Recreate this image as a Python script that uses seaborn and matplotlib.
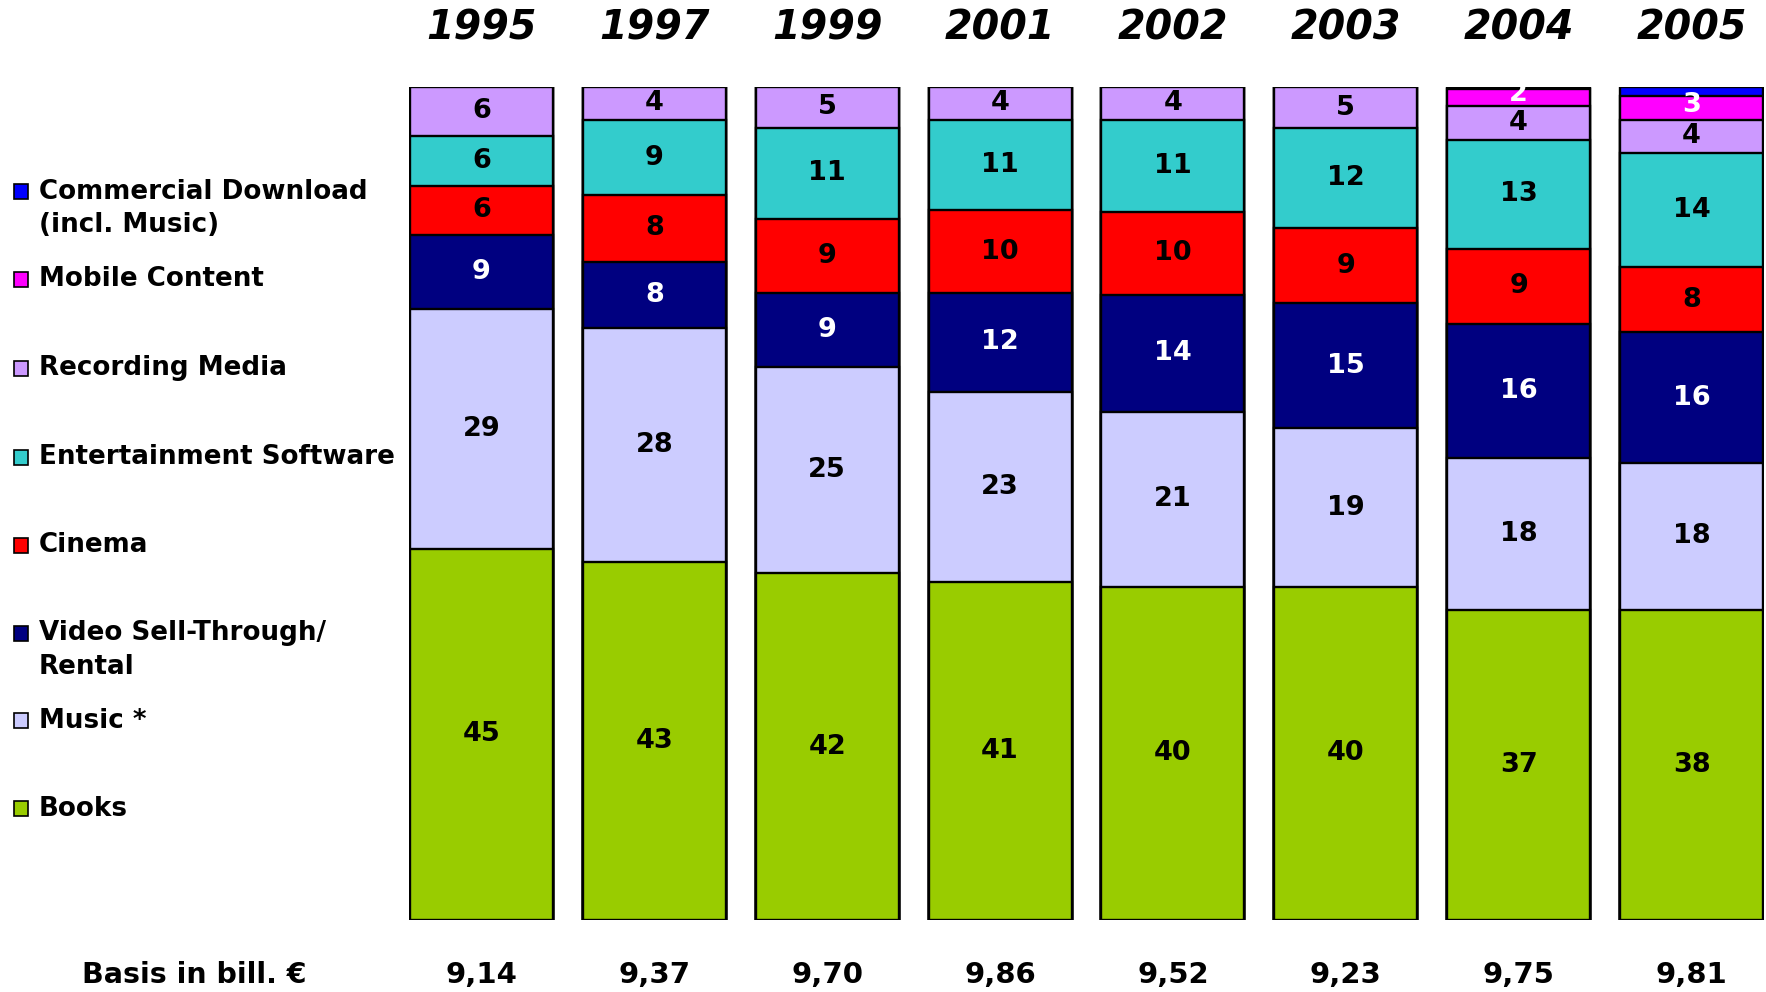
import numpy as np
import pandas as pd
import matplotlib
matplotlib.use("Agg")
import matplotlib.pyplot as plt
import matplotlib.transforms as mtransforms
from matplotlib.patches import Rectangle
import seaborn as sns

years = ['1995', '1997', '1999', '2001', '2002', '2003', '2004', '2005']
basis = ['9,14', '9,37', '9,70', '9,86', '9,52', '9,23', '9,75', '9,81']

# shares in %, bottom to top
books = [45, 43, 42, 41, 40, 40, 37, 38]
music = [29, 28, 25, 23, 21, 19, 18, 18]
video = [9, 8, 9, 12, 14, 15, 16, 16]
cinema = [6, 8, 9, 10, 10, 9, 9, 8]
ent_software = [6, 9, 11, 11, 11, 12, 13, 14]
rec_media = [6, 4, 5, 4, 4, 5, 4, 4]
mobile = [0, 0, 0, 0, 0, 0, 2, 3]
download = [0, 0, 0, 0, 0, 0, 0.3, 1.1]  # no label in the chart

cats = ['Books', 'Music *', 'Video Sell-Through/\nRental', 'Cinema',
        'Entertainment Software', 'Recording Media', 'Mobile Content',
        'Commercial Download\n(incl. Music)']
colors = ['#99CC00', '#CCCCFF', '#000080', '#FF0000', '#33CCCC', '#CC99FF',
          '#FF00FF', '#0000FF']
txt_colors = ['black', 'black', 'white', 'black', 'black', 'black', 'white', 'white']
show_label = [True, True, True, True, True, True, True, False]

vals = np.array([books, music, video, cinema, ent_software, rec_media, mobile, download], dtype=float)
shares = vals / vals.sum(axis=0) * 100
cum = np.cumsum(shares, axis=0)

sns.set_style("white")
plt.rcParams['font.family'] = ['DejaVu Sans']
plt.rcParams['text.color'] = 'black'

W, H = 1766, 992
fig = plt.figure(figsize=(W / 100, H / 100), dpi=100)
ax = fig.add_axes([408.9 / W, 72 / H, 1355.2 / W, 833.3 / H])

# draw cumulative bars back to front so they look stacked
for k in range(len(cats) - 1, -1, -1):
    df = pd.DataFrame({'year': years, 'cum': cum[k]})
    sns.barplot(data=df, x='year', y='cum', color=colors[k], saturation=1,
                width=0.827, edgecolor='black', linewidth=1.7, ax=ax)

for k in range(len(cats)):
    if not show_label[k]:
        continue
    for i in range(len(years)):
        if vals[k, i] <= 0:
            continue
        lo = cum[k, i] - shares[k, i]
        mid = (lo + cum[k, i]) / 2
        if k == 6:
            mid += 0.4
        ax.text(i, mid, f'{vals[k, i]:g}', ha='center', va='center',
                fontsize=19.5, fontweight='bold', color=txt_colors[k])

ax.set_xlim(-0.42, 7.42)
ax.set_ylim(0, 100)
ax.axis('off')

trans = mtransforms.blended_transform_factory(ax.transData, fig.transFigure)
for i, y in enumerate(years):
    ax.text(i, 1 - 29 / H, y, transform=trans, ha='center', va='center',
            fontsize=28.5, fontweight='bold', fontstyle='italic')
    ax.text(i, 1 - 975 / H, basis[i], transform=trans, ha='center', va='center',
            fontsize=21, fontweight='bold')
fig.text(194 / W, 1 - 975 / H, 'Basis in bill. €', ha='center', va='center',
         fontsize=20.5, fontweight='bold')

# legend, top item first
leg_y = [191.5, 279.3, 368.3, 457.3, 545.1, 633, 720.8, 808.7]
for j, k in enumerate(range(len(cats) - 1, -1, -1)):
    yc = leg_y[j]
    sq = 15
    fig.patches.append(Rectangle((13.5 / W, 1 - (yc + sq / 2) / H), sq / W, sq / H,
                                 transform=fig.transFigure, facecolor=colors[k],
                                 edgecolor='black', linewidth=1.2))
    for n, line in enumerate(cats[k].split('\n')):
        fig.text(39 / W, 1 - (yc + n * 33.5) / H, line, ha='left', va='center',
                 fontsize=18.8, fontweight='bold')

plt.savefig('out.png', dpi=100)
plt.close()
